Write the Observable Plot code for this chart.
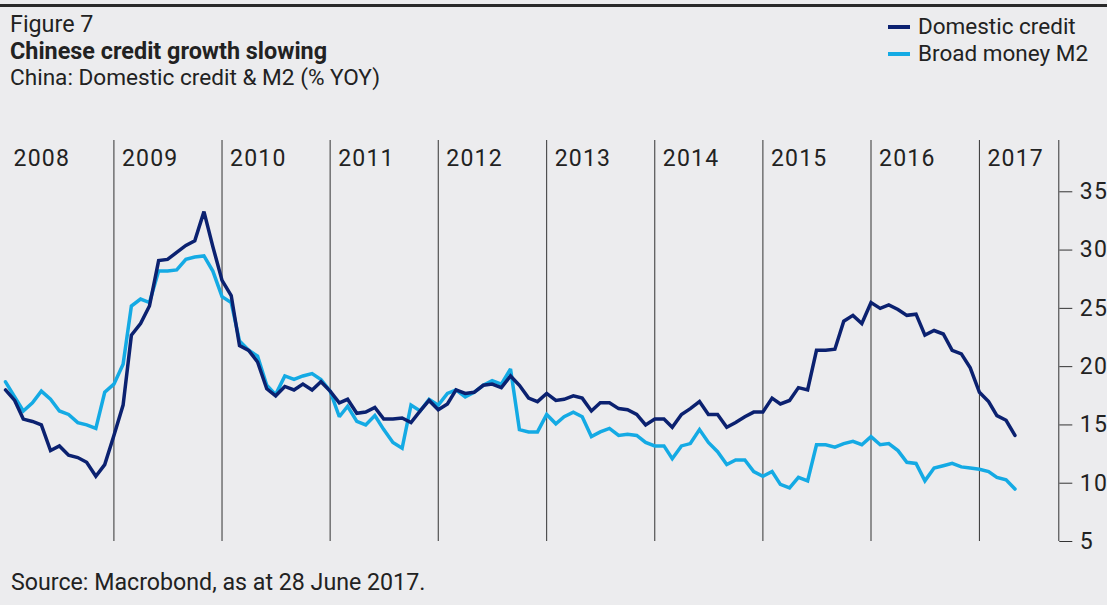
<!DOCTYPE html>
<html>
<head>
<meta charset="utf-8">
<script src="https://cdn.jsdelivr.net/npm/d3@7"></script>
<script src="https://cdn.jsdelivr.net/npm/@observablehq/plot@0.6"></script>
<style>
  html, body { margin: 0; padding: 0; }
  body { width: 1107px; height: 605px; overflow: hidden; position: relative; background: #ececee; font-family: Roboto, "Noto Sans", sans-serif; color: #222; }
  #topRule { position: absolute; left: 0; top: 4px; width: 1107px; height: 3px; background: #2a2a2a; }
  .txt { position: absolute; white-space: nowrap; line-height: 24px; }
  .legItem { position: absolute; left: 888px; white-space: nowrap; font-size: 22.5px; line-height: 24px; }
  .legItem .sw { display: inline-block; width: 22px; height: 3.5px; vertical-align: middle; margin-right: 8px; position: relative; top: -1px; }
  #chart { position: absolute; left: 0; top: 100px; }
  #chart svg { overflow: visible; }
</style>
</head>
<body>
<div id="topRule"></div>
<div class="txt" id="fig" style="left:10px;top:12px;font-size:23.3px;">Figure 7</div>
<div class="txt" id="title" style="left:10px;top:39px;font-size:23.4px;font-weight:700;">Chinese credit growth slowing</div>
<div class="txt" id="subtitle" style="left:10px;top:66px;font-size:22.6px;">China: Domestic credit &amp; M2 (% YOY)</div>
<div id="legend"></div>
<div id="chart"></div>
<div class="txt" id="source" style="left:11px;top:570px;font-size:23.2px;">Source: Macrobond, as at 28 June 2017.</div>
<script>
// ---- Data (monthly, Jan 2008 – May 2017) ----
const seriesNames = ["Domestic credit", "Broad money M2"];
const seriesColors = ["#0b2170", "#14aae4"];
const firstMonth = "2008-01-01";
const lastMonth = "2017-05-01";

const domesticCredit = [
  18.0, 17.1, 15.5, 15.3, 15.0, 12.8, 13.2, 12.4, 12.2, 11.8, 10.6, 11.6,
  14.1, 16.7, 22.7, 23.7, 25.2, 29.1, 29.2, 29.8, 30.4, 30.8, 33.3, 30.3,
  27.4, 26.1, 21.8, 21.4, 20.4, 18.1, 17.5, 18.3, 18.0, 18.5, 18.0, 18.7,
  17.9, 16.9, 17.2, 16.0, 16.1, 16.5, 15.5, 15.5, 15.6, 15.2, 16.2, 17.1,
  16.3, 16.8, 18.0, 17.7, 17.8, 18.4, 18.5, 18.2, 19.2, 18.4, 17.3, 17.0,
  17.7, 17.1, 17.2, 17.5, 17.3, 16.2, 16.9, 16.9, 16.4, 16.3, 15.9, 15.0,
  15.5, 15.5, 14.8, 15.9, 16.4, 17.0, 15.9, 15.9, 14.8, 15.2, 15.7, 16.1,
  16.1, 17.3, 16.8, 17.1, 18.2, 18.0, 21.4, 21.4, 21.5, 23.9, 24.4, 23.7,
  25.5, 25.0, 25.3, 24.9, 24.4, 24.5, 22.7, 23.1, 22.8, 21.4, 21.1, 19.9,
  17.8, 17.0, 15.8, 15.4, 14.1
];

const broadMoneyM2 = [
  18.7, 17.4, 16.2, 16.9, 17.9, 17.2, 16.2, 15.9, 15.2, 15.0, 14.7, 17.8,
  18.5, 20.2, 25.2, 25.8, 25.5, 28.2, 28.2, 28.3, 29.2, 29.4, 29.5, 28.2,
  26.0, 25.5, 22.2, 21.4, 20.9, 18.4, 17.6, 19.2, 18.9, 19.2, 19.4, 18.9,
  17.9, 15.7, 16.6, 15.3, 15.0, 15.8, 14.6, 13.5, 13.0, 16.7, 16.2, 17.2,
  16.7, 17.7, 18.0, 17.4, 17.8, 18.4, 18.8, 18.5, 19.8, 14.6, 14.4, 14.4,
  15.9, 15.1, 15.7, 16.1, 15.7, 14.0, 14.4, 14.7, 14.1, 14.2, 14.1, 13.5,
  13.2, 13.2, 12.1, 13.2, 13.4, 14.6, 13.5, 12.7, 11.6, 12.0, 12.0, 11.0,
  10.6, 11.0, 9.9, 9.6, 10.5, 10.2, 13.3, 13.3, 13.1, 13.4, 13.6, 13.3,
  14.0, 13.3, 13.4, 12.8, 11.8, 11.7, 10.2, 11.3, 11.5, 11.7, 11.4, 11.3,
  11.2, 11.0, 10.5, 10.3, 9.5
];

const yearLabels = [2008, 2009, 2010, 2011, 2012, 2013, 2014, 2015, 2016, 2017];
const yTicks = [5, 10, 15, 20, 25, 30, 35];
const xDomain = ["2008-01-01", "2017-09-26"];
const yDomain = [5, 39.4];

// ---- Build table ----
const months = d3.utcMonth.range(new Date(firstMonth), d3.utcMonth.offset(new Date(lastMonth), 1));
const rows = months.map((date, i) => ({date, credit: domesticCredit[i], m2: broadMoneyM2[i]}));
const yearStarts = yearLabels.map(y => new Date(Date.UTC(y, 0, 1)));
const xEnd = new Date(xDomain[1]);

const chart = Plot.plot({
  width: 1107,
  height: 455,
  marginLeft: 5,
  marginRight: 48.7,
  marginTop: 40,
  marginBottom: 14,
  style: {background: "transparent", fontFamily: "Roboto, 'Noto Sans', sans-serif", fontSize: "23px", color: "#2a2a2a", overflow: "visible", letterSpacing: "1.2px"},
  x: {type: "utc", domain: xDomain.map(d => new Date(d)), axis: null},
  y: {domain: yDomain, axis: null},
  marks: [
    Plot.ruleX(yearStarts.slice(1), {stroke: "#333", strokeWidth: 1}),
    Plot.text(yearStarts, {x: d => d, text: d => String(d.getUTCFullYear()), frameAnchor: "top", lineAnchor: "middle", textAnchor: "start", dx: 8, dy: 18, fontSize: 23, fill: "#222"}),
    Plot.line(rows, {x: "date", y: "m2", stroke: seriesColors[1], strokeWidth: 3.5, strokeLinejoin: "miter", strokeMiterlimit: 2}),
    Plot.line(rows, {x: "date", y: "credit", stroke: seriesColors[0], strokeWidth: 3.5, strokeLinejoin: "miter", strokeMiterlimit: 2}),
    Plot.ruleX([xEnd], {stroke: "#333", strokeWidth: 1}),
    Plot.axisY(yTicks, {anchor: "right", tickSize: 13, tickPadding: 8, fontSize: 23, stroke: "#333", fill: "#222"})
  ]
});
document.getElementById("chart").appendChild(chart);

// ---- Legend ----
const legend = document.getElementById("legend");
seriesNames.forEach((name, i) => {
  const d = document.createElement("div");
  d.className = "legItem";
  d.style.top = (14 + i * 27) + "px";
  d.innerHTML = `<span class="sw" style="background:${seriesColors[i]}"></span>${name}`;
  legend.appendChild(d);
});
</script>
</body>
</html>
